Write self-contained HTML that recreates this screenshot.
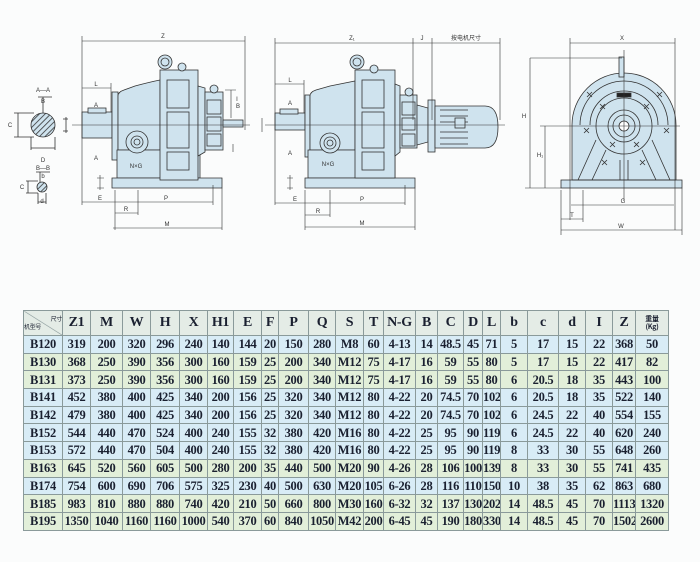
<!DOCTYPE html>
<html><head><meta charset="utf-8"><style>
html,body{margin:0;padding:0;background:#fbfcfc;width:700px;height:562px;overflow:hidden}
svg{position:absolute;left:0;top:0}
table{position:absolute;left:23px;top:310px;width:645px;border-collapse:collapse;table-layout:fixed;font-family:"Liberation Serif",serif;font-weight:bold;color:#1a2030;font-size:12.5px;letter-spacing:-0.3px}
td{border:1px solid #8a9a9a;text-align:center;padding:0;height:16.7px;line-height:16px;white-space:nowrap;overflow:hidden}
tr.h td{height:24px;background:#e4ece6;font-size:14px}
tr.b td{background:#d8ecf6}
tr.g td{background:#e2efd9}
</style></head><body>
<svg width="700" height="300" viewBox="0 0 700 300" font-family="Liberation Sans,sans-serif" font-size="6" fill="#333">
<defs>
<pattern id="hat" width="4" height="4" patternUnits="userSpaceOnUse" patternTransform="rotate(45)"><rect width="4" height="4" fill="#cfe3ee"/><line x1="0" y1="0" x2="0" y2="4" stroke="#333" stroke-width="1.6"/></pattern>
</defs>
<g stroke="#333" stroke-width="0.8" fill="none">
<circle cx="43" cy="125" r="12" fill="url(#hat)"/>
<path d="M38 97H52M43 97V113M14 113H34M14 137H34M18 113V137M31 137V150M55 137V150M31 148H55"/>
<circle cx="42" cy="187" r="5" fill="url(#hat)"/>
<path d="M36 172H50M40 172V182M26 181H38M26 193H38M28 181V193M38 193V204M46 193V204M38 202H46"/>
<path d="M66 117V133M63 119H68M63 131H68"/>
<g fill="#cfe3ee">
<rect x="82" y="112" width="30" height="26"/>
<rect x="112" y="92" width="6" height="68"/>
<path d="M118 150V96Q118 92 124 90L135 86Q150 82 160 80V150Z"/>
<path d="M117 150H200V178H117Z"/>
<path d="M112 178H222V188H112Z"/>
<rect x="160" y="70" width="38" height="110"/>
<path d="M198 86L205 88V152L198 156Z"/>
<rect x="205" y="92" width="18" height="58"/>
<rect x="223" y="120" width="20" height="7"/>
<circle cx="137" cy="142" r="11"/>
<circle cx="165" cy="62" r="7"/>
<circle cx="182" cy="67" r="4"/>
<circle cx="214" cy="89" r="4"/>
</g>
<circle cx="137" cy="142" r="6"/><circle cx="137" cy="142" r="3"/><circle cx="165" cy="62" r="4"/>
<rect x="167" y="80" width="22" height="28"/><rect x="167" y="112" width="22" height="36"/><rect x="167" y="152" width="22" height="18"/>
<rect x="207" y="100" width="14" height="14"/><rect x="207" y="117" width="14" height="14"/><rect x="207" y="134" width="14" height="12"/>
<rect x="88" y="108" width="18" height="5" fill="#cfe3ee"/>
<path d="M82 41H245M82 36V205M245 36V130M82 88H111M111 83V112M82 202H120M120 202H213M213 185V205M115 213H138M115 190V230M138 190V215M113 228H222M222 188V230M100 175V190M97 178H104M97 188H104M231 90V118M225 90H236M233 144V152M72 125H250" stroke-width="0.6"/>
<g fill="#cfe3ee">
<rect x="275" y="113" width="30" height="17"/>
<rect x="305" y="95" width="5" height="62"/>
<path d="M310 150V96Q310 92 316 90L330 86Q345 83 355 81V150Z"/>
<path d="M308 150H395V178H308Z"/>
<path d="M305 178H415V188H305Z"/>
<rect x="355" y="70" width="40" height="108"/>
<path d="M395 84L400 86V152L395 156Z"/>
<rect x="400" y="95" width="17" height="53"/>
<path d="M417 105L428 108V142L417 145Z"/>
<rect x="428" y="100" width="7" height="52"/>
<path d="M435 106H485Q498 106 498 127Q498 148 485 148H435Z"/>
<circle cx="330" cy="143" r="10"/>
<circle cx="357" cy="62" r="7"/>
<circle cx="374" cy="69" r="4"/>
<circle cx="409" cy="92" r="4"/>
</g>
<circle cx="330" cy="143" r="6"/><circle cx="330" cy="143" r="3"/><circle cx="357" cy="62" r="4"/>
<rect x="362" y="80" width="22" height="28"/><rect x="362" y="112" width="22" height="36"/><rect x="362" y="152" width="22" height="18"/>
<rect x="402" y="102" width="13" height="13"/><rect x="402" y="118" width="13" height="12"/><rect x="402" y="134" width="13" height="12"/>
<path d="M440 110H468M440 116H468M440 122H468M440 132H468M440 138H468M440 144H468"/>
<rect x="455" y="118" width="10" height="10" fill="#cfe3ee"/>
<rect x="280" y="109" width="18" height="5" fill="#cfe3ee"/>
<path d="M275 43H500M275 38V205M413 38V120M432 38V120M500 38V120M275 84H304M304 80V113M275 203H315M315 203H405M405 185V205M305 215H330M305 190V230M330 190V217M305 227H415M415 188V230M290 175V190M287 178H293M287 188H293M262 118V132M265 125H505" stroke-width="0.6"/>
<g fill="#cfe3ee">
<path d="M572 180V125A52 52 0 0 1 676 125V180Z"/>
<rect x="561" y="180" width="121" height="8"/>
<rect x="619" y="57" width="5" height="20"/>
</g>
<path d="M580 125A44 44 0 0 1 668 125M590 125A34 34 0 0 1 658 125"/>
<circle cx="624" cy="126" r="28"/><circle cx="624" cy="126" r="16"/><circle cx="624" cy="126" r="11"/><circle cx="624" cy="126" r="5" fill="#fff"/>
<path d="M596 140L578 180M652 140L670 180M592 180L606 150M656 180L642 150M620 160V180M628 160V180M572 180H676" />
<rect x="617" y="93" width="14" height="4" fill="#222"/>
<path d="M587 92l5 5M587 97l5-5M657 92l5 5M657 97l5-5M600 104l5 5M600 109l5-5M644 104l5 5M644 109l5-5M584 128l5 5M584 133l5-5M664 128l5 5M664 133l5-5M602 160l5 5M602 165l5-5M640 160l5 5M640 165l5-5M610 142l5 5M610 147l5-5M634 142l5 5M634 147l5-5"/>
<path d="M570 43H675M570 38V220M675 38V230M530 58H622M530 58V188M525 188H561M545 126V188M540 126H680M571 205H674M561 219H583M561 190V235M583 190V222M561 230H682M682 188V235M624 50V200" stroke-width="0.6"/>
</g>
<g text-anchor="middle">
<text x="163" y="38">Z</text><text x="352" y="40">Z₁</text><text x="422" y="40">J</text><text x="466" y="40" font-family="Noto Sans CJK SC,sans-serif">按电机尺寸</text>
<text x="622" y="40">X</text>
<text x="43" y="92">A—A</text><text x="43" y="103">B</text><text x="43" y="162">D</text><text x="43" y="170">B—B</text><text x="43" y="178">b</text><text x="42" y="203">d</text>
<text x="96" y="86">L</text><text x="96" y="107">A</text><text x="96" y="160">A</text><text x="136" y="168">N×G</text>
<text x="100" y="200">E</text><text x="166" y="200">P</text><text x="126" y="211">R</text><text x="167" y="226">M</text><text x="238" y="108">B</text><text x="237" y="101">I</text>
<text x="290" y="82">L</text><text x="290" y="105">A</text><text x="290" y="155">A</text><text x="328" y="166">N×G</text>
<text x="295" y="201">E</text><text x="362" y="201">P</text><text x="318" y="213">R</text><text x="362" y="225">M</text>
<text x="524" y="118">H</text><text x="540" y="157">H₁</text><text x="623" y="203">G</text><text x="572" y="217">T</text><text x="621" y="228">W</text>
<text x="10" y="127">C</text><text x="22" y="189">C</text>
</g>
</svg>
<table>
<colgroup><col style="width:39px"><col style="width:28px"><col style="width:32px"><col style="width:28px"><col style="width:29px"><col style="width:28px"><col style="width:26px"><col style="width:28px"><col style="width:17px"><col style="width:30px"><col style="width:27px"><col style="width:28px"><col style="width:20px"><col style="width:32px"><col style="width:22px"><col style="width:26px"><col style="width:19px"><col style="width:18px"><col style="width:27px"><col style="width:31px"><col style="width:27px"><col style="width:27px"><col style="width:23px"><col style="width:33px"></colgroup>
<tr class="h"><td style="font-size:6px;font-weight:normal;line-height:8px;background:linear-gradient(to top right,#e4ece6 49%,#8a9a9a 50%,#e4ece6 52%);font-family:'Noto Sans CJK SC',sans-serif"><div style="text-align:right">尺寸</div><div style="text-align:left">机型号</div></td><td>Z1</td><td>M</td><td>W</td><td>H</td><td>X</td><td>H1</td><td>E</td><td>F</td><td>P</td><td>Q</td><td>S</td><td>T</td><td>N-G</td><td>B</td><td>C</td><td>D</td><td>L</td><td>b</td><td>c</td><td>d</td><td>I</td><td>Z</td><td style="font-size:7px;line-height:8px;font-family:'Noto Sans CJK SC',serif">重量<br>(Kg)</td></tr>
<tr class="b"><td>B120</td><td>319</td><td>200</td><td>320</td><td>296</td><td>240</td><td>140</td><td>144</td><td>20</td><td>150</td><td>280</td><td>M8</td><td>60</td><td>4-13</td><td>14</td><td>48.5</td><td>45</td><td>71</td><td>5</td><td>17</td><td>15</td><td>22</td><td>368</td><td>50</td></tr>
<tr class="g"><td>B130</td><td>368</td><td>250</td><td>390</td><td>356</td><td>300</td><td>160</td><td>159</td><td>25</td><td>200</td><td>340</td><td>M12</td><td>75</td><td>4-17</td><td>16</td><td>59</td><td>55</td><td>80</td><td>5</td><td>17</td><td>15</td><td>22</td><td>417</td><td>82</td></tr>
<tr class="g"><td>B131</td><td>373</td><td>250</td><td>390</td><td>356</td><td>300</td><td>160</td><td>159</td><td>25</td><td>200</td><td>340</td><td>M12</td><td>75</td><td>4-17</td><td>16</td><td>59</td><td>55</td><td>80</td><td>6</td><td>20.5</td><td>18</td><td>35</td><td>443</td><td>100</td></tr>
<tr class="b"><td>B141</td><td>452</td><td>380</td><td>400</td><td>425</td><td>340</td><td>200</td><td>156</td><td>25</td><td>320</td><td>340</td><td>M12</td><td>80</td><td>4-22</td><td>20</td><td>74.5</td><td>70</td><td>102</td><td>6</td><td>20.5</td><td>18</td><td>35</td><td>522</td><td>140</td></tr>
<tr class="b"><td>B142</td><td>479</td><td>380</td><td>400</td><td>425</td><td>340</td><td>200</td><td>156</td><td>25</td><td>320</td><td>340</td><td>M12</td><td>80</td><td>4-22</td><td>20</td><td>74.5</td><td>70</td><td>102</td><td>6</td><td>24.5</td><td>22</td><td>40</td><td>554</td><td>155</td></tr>
<tr class="b"><td>B152</td><td>544</td><td>440</td><td>470</td><td>524</td><td>400</td><td>240</td><td>155</td><td>32</td><td>380</td><td>420</td><td>M16</td><td>80</td><td>4-22</td><td>25</td><td>95</td><td>90</td><td>119</td><td>6</td><td>24.5</td><td>22</td><td>40</td><td>620</td><td>240</td></tr>
<tr class="b"><td>B153</td><td>572</td><td>440</td><td>470</td><td>504</td><td>400</td><td>240</td><td>155</td><td>32</td><td>380</td><td>420</td><td>M16</td><td>80</td><td>4-22</td><td>25</td><td>95</td><td>90</td><td>119</td><td>8</td><td>33</td><td>30</td><td>55</td><td>648</td><td>260</td></tr>
<tr class="g"><td>B163</td><td>645</td><td>520</td><td>560</td><td>605</td><td>500</td><td>280</td><td>200</td><td>35</td><td>440</td><td>500</td><td>M20</td><td>90</td><td>4-26</td><td>28</td><td>106</td><td>100</td><td>139</td><td>8</td><td>33</td><td>30</td><td>55</td><td>741</td><td>435</td></tr>
<tr class="b"><td>B174</td><td>754</td><td>600</td><td>690</td><td>706</td><td>575</td><td>325</td><td>230</td><td>40</td><td>500</td><td>630</td><td>M20</td><td>105</td><td>6-26</td><td>28</td><td>116</td><td>110</td><td>150</td><td>10</td><td>38</td><td>35</td><td>62</td><td>863</td><td>680</td></tr>
<tr class="g"><td>B185</td><td>983</td><td>810</td><td>880</td><td>880</td><td>740</td><td>420</td><td>210</td><td>50</td><td>660</td><td>800</td><td>M30</td><td>160</td><td>6-32</td><td>32</td><td>137</td><td>130</td><td>202</td><td>14</td><td>48.5</td><td>45</td><td>70</td><td>1113</td><td>1320</td></tr>
<tr class="g"><td>B195</td><td>1350</td><td>1040</td><td>1160</td><td>1160</td><td>1000</td><td>540</td><td>370</td><td>60</td><td>840</td><td>1050</td><td>M42</td><td>200</td><td>6-45</td><td>45</td><td>190</td><td>180</td><td>330</td><td>14</td><td>48.5</td><td>45</td><td>70</td><td>1502</td><td>2600</td></tr>
</table>
</body></html>
